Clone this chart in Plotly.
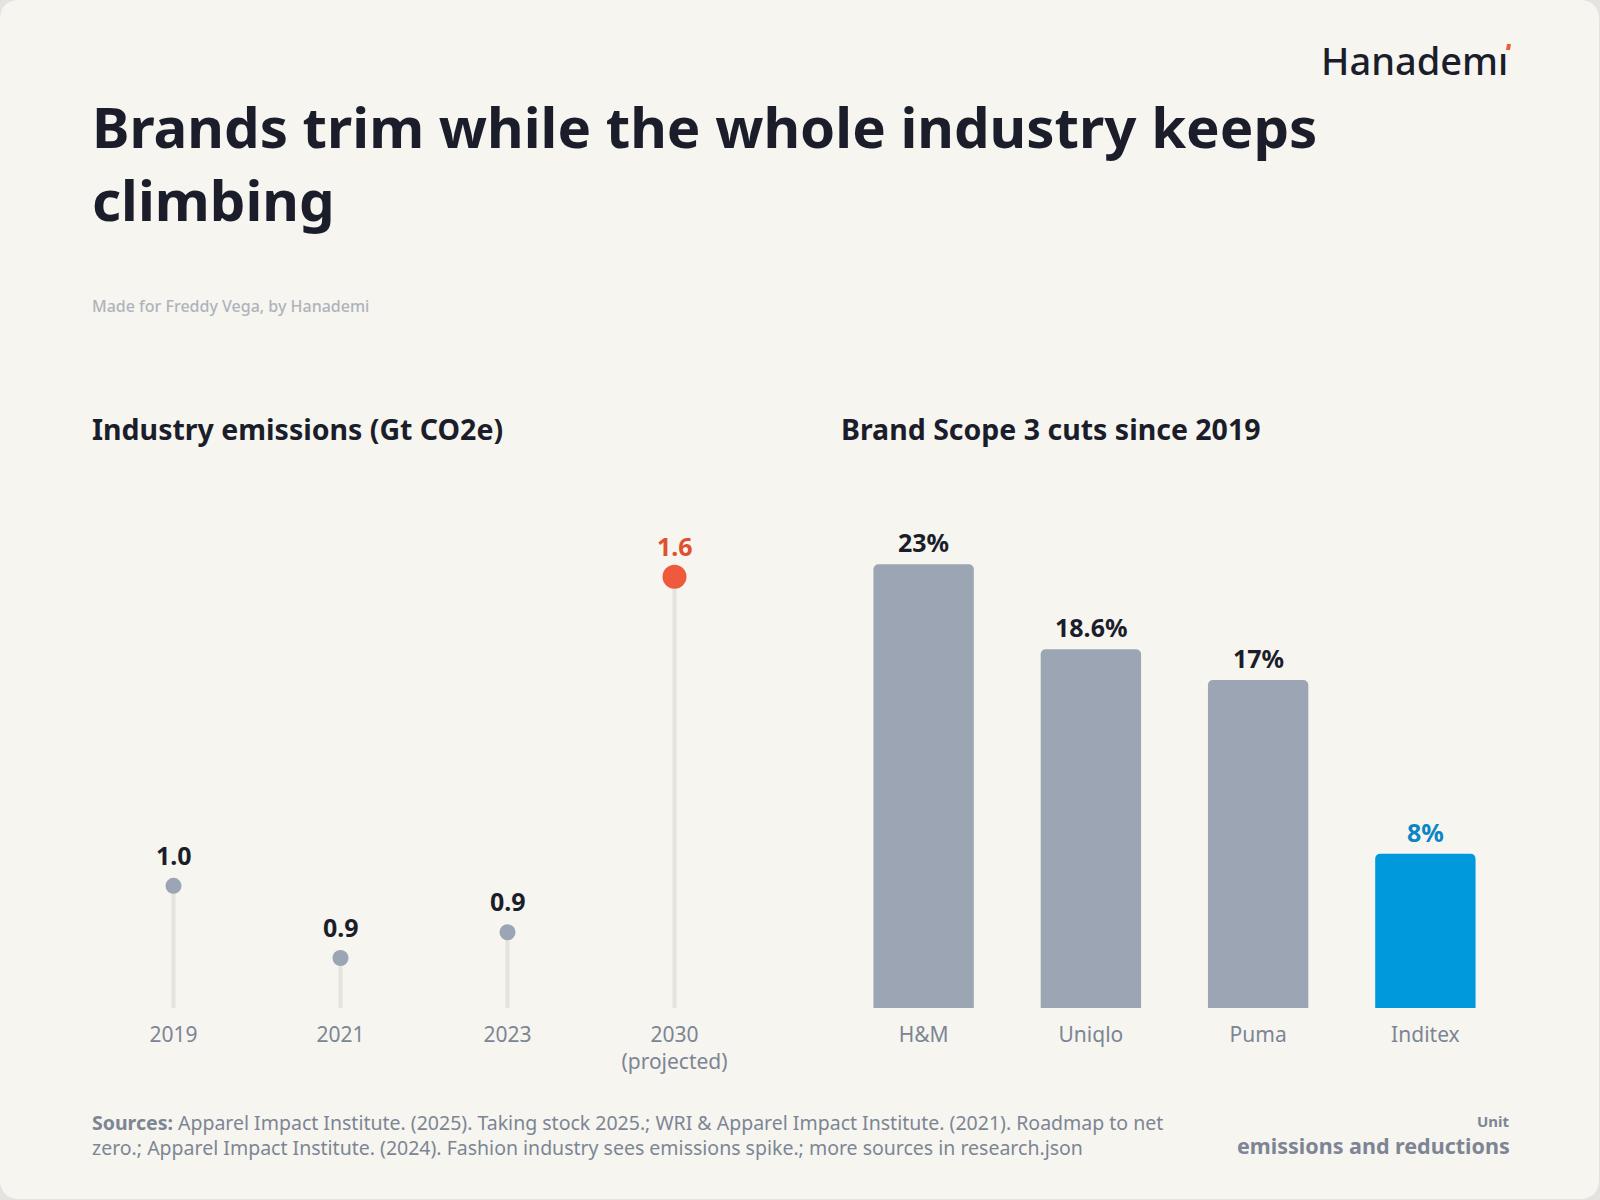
import plotly.graph_objects as go

# ---- data ----
years = ["2019", "2021", "2023", "2030<br>(projected)"]
emissions = [1.0, 0.86, 0.91, 1.6]
emission_colors = ["#9ba5b3", "#9ba5b3", "#9ba5b3", "#ef5a3c"]
emission_label_colors = ["#1b1e2a", "#1b1e2a", "#1b1e2a", "#e0502f"]
emission_marker_sizes = [16, 16, 16, 24]

brands = ["H&M", "Uniqlo", "Puma", "Inditex"]
cuts = [23, 18.6, 17, 8]
bar_colors = ["#9ba5b3", "#9ba5b3", "#9ba5b3", "#0099db"]
bar_label_colors = ["#1b1e2a", "#1b1e2a", "#1b1e2a", "#0b85c4"]

FONT = "Noto Sans"
DARK = "#1b1e2a"
GRAY = "#7d8594"
W, H = 1600, 1200

def py(px):
    return 1 - px / H

def pxx(px):
    return px / W

fig = go.Figure()

left_ymin, left_ymax = 0.763, 1.71
xs = list(range(len(years)))

# stems
sx, sy = [], []
for i, v in zip(xs, emissions):
    sx += [i, i, None]
    sy += [left_ymin, v, None]
fig.add_trace(go.Scatter(x=sx, y=sy, mode="lines", line=dict(color="#e5e3de", width=4),
                         xaxis="x", yaxis="y", hoverinfo="skip", showlegend=False))
fig.add_trace(go.Scatter(x=xs, y=emissions, mode="markers", opacity=1,
                         marker=dict(color=emission_colors, size=emission_marker_sizes, opacity=1,
                                     line=dict(width=0)),
                         xaxis="x", yaxis="y", showlegend=False))

bx = list(range(len(brands)))
fig.add_trace(go.Bar(x=bx, y=cuts, marker=dict(color=bar_colors, cornerradius=5, line=dict(width=0)),
                     xaxis="x2", yaxis="y2", showlegend=False))

annotations = []
for i, v, c in zip(xs, emissions, emission_label_colors):
    annotations.append(dict(x=i, y=v, xref="x", yref="y", text=f"<b>{v:.1f}</b>", showarrow=False,
                            yshift=31, yanchor="middle", font=dict(family=FONT, size=25, color=c)))
for i, v, c in zip(bx, cuts, bar_label_colors):
    annotations.append(dict(x=i, y=v, xref="x2", yref="y2", text=f"<b>{v:g}%</b>", showarrow=False,
                            yshift=22, yanchor="middle", font=dict(family=FONT, size=25, color=c)))

# texts
annotations += [
    dict(x=pxx(1510), y=py(60), xref="paper", yref="paper", text="Hanademı", showarrow=False,
         xanchor="right", yanchor="middle", font=dict(family=FONT, size=38, color=DARK, weight=500)),
    dict(x=pxx(90), y=py(163), xref="paper", yref="paper",
         text="<b>Brands trim while the whole industry keeps<br>climbing</b>", showarrow=False,
         xanchor="left", yanchor="middle", align="left",
         font=dict(family=FONT, size=56.4, color=DARK)),
    dict(x=pxx(90), y=py(306), xref="paper", yref="paper", text="Made for Freddy Vega, by Hanademi",
         showarrow=False, xanchor="left", yanchor="middle",
         font=dict(family=FONT, size=16, color="#b0b3ba", weight=500)),
    dict(x=pxx(90), y=py(429), xref="paper", yref="paper", text="<b>Industry emissions (Gt CO2e)</b>",
         showarrow=False, xanchor="left", yanchor="middle", font=dict(family=FONT, size=28.5, color=DARK)),
    dict(x=pxx(839), y=py(429), xref="paper", yref="paper", text="<b>Brand Scope 3 cuts since 2019</b>",
         showarrow=False, xanchor="left", yanchor="middle", font=dict(family=FONT, size=28.5, color=DARK)),
    dict(x=pxx(90), y=py(1135), xref="paper", yref="paper",
         text="<b>Sources:</b> Apparel Impact Institute. (2025). Taking stock 2025.; WRI &amp; Apparel Impact Institute. (2021). Roadmap to net<br>zero.; Apparel Impact Institute. (2024). Fashion industry sees emissions spike.; more sources in research.json",
         showarrow=False, xanchor="left", yanchor="middle", align="left",
         font=dict(family=FONT, size=19.5, color=GRAY)),
    dict(x=pxx(1512), y=py(1121), xref="paper", yref="paper", text="<b>Unit</b>", showarrow=False,
         xanchor="right", yanchor="middle", font=dict(family=FONT, size=15, color=GRAY)),
    dict(x=pxx(1512), y=py(1145), xref="paper", yref="paper", text="<b>emissions and reductions</b>",
         showarrow=False, xanchor="right", yanchor="middle", font=dict(family=FONT, size=21.5, color=GRAY)),
]

# card background with rounded corners
r = 20
x0, y0, x1, y1 = 0, 0, W - 1, H - 1
def P(x, y):
    return f"{x / W:.5f},{1 - y / H:.5f}"
path = (f"M {P(x0 + r, y0)} L {P(x1 - r, y0)} Q {P(x1, y0)} {P(x1, y0 + r)} "
        f"L {P(x1, y1 - r)} Q {P(x1, y1)} {P(x1 - r, y1)} L {P(x0 + r, y1)} "
        f"Q {P(x0, y1)} {P(x0, y1 - r)} L {P(x0, y0 + r)} Q {P(x0, y0)} {P(x0 + r, y0)} Z")
shapes = [dict(type="path", path=path, xref="paper", yref="paper", fillcolor="#f6f5f0",
               line=dict(width=0), layer="below"),
          dict(type="path", xref="paper", yref="paper", fillcolor="#ef5a3c", line=dict(width=0),
               path=f"M {P(1507, 44)} L {P(1511, 44)} L {P(1510, 50)} L {P(1506, 50)} Z")]

axis_common = dict(showgrid=False, zeroline=False, showline=False, ticks="", fixedrange=True)
fig.update_layout(
    width=W, height=H,
    margin=dict(l=0, r=0, t=0, b=0),
    paper_bgcolor="#e4e3df", plot_bgcolor="rgba(0,0,0,0)",
    font=dict(family=FONT, color=GRAY),
    xaxis=dict(domain=[pxx(90), pxx(758)], range=[-0.5, 3.5], tickvals=xs, ticktext=years,
               tickfont=dict(family=FONT, size=21, color=GRAY), ticklabelstandoff=12, **axis_common),
    yaxis=dict(domain=[py(1008), py(520)], range=[left_ymin, left_ymax], showticklabels=False, **axis_common),
    xaxis2=dict(domain=[pxx(840), pxx(1509)], range=[-0.5, 3.5], tickvals=bx, ticktext=brands,
                anchor="y2", tickfont=dict(family=FONT, size=21, color=GRAY), ticklabelstandoff=12, **axis_common),
    yaxis2=dict(domain=[py(1008), py(520)], range=[0, 25.3], anchor="x2", showticklabels=False, **axis_common),
    bargap=0.4,
    annotations=annotations,
    shapes=shapes,
    hovermode=False,
)

fig.write_html("out.html", config={"displayModeBar": False})
